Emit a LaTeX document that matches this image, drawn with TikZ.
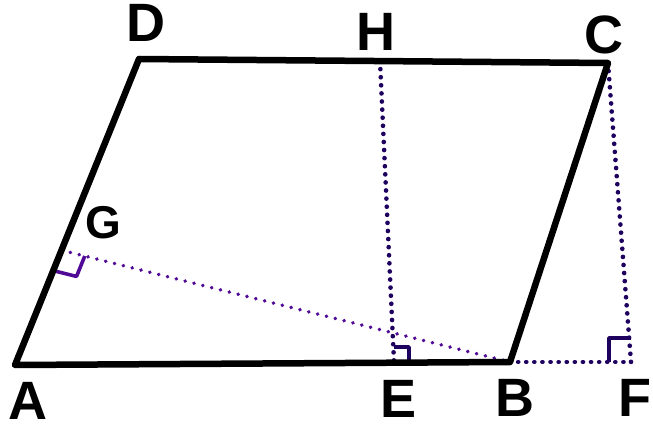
\documentclass[tikz,border=0pt]{standalone}
\usepackage{fontspec}
\setmainfont{Liberation Sans}
\usetikzlibrary{calc}
\definecolor{dotcol}{RGB}{30,0,95}
\definecolor{markcol}{RGB}{80,10,150}
\tikzset{
  x=1pt, y=-1pt,
  solidedge/.style={line width=6.5pt, line join=round, line cap=round, black},
  dottededge/.style={line width=4.6pt, line cap=round, dash pattern=on 0.1pt off 8pt, dotcol},
  thindotted/.style={line width=3.8pt, line cap=round, dash pattern=on 0.1pt off 9pt, markcol},
  rightmark/.style={line width=3.6pt, line join=round, dotcol},
  lbl/.style={font=\fontsize{54}{60}\selectfont\bfseries, inner sep=0pt, text=black},
  lblsmall/.style={font=\fontsize{46}{50}\selectfont\bfseries, inner sep=0pt, text=black}
}
\begin{document}
\begin{tikzpicture}
\useasboundingbox (0,0) rectangle (653,430);
\coordinate (A) at (15,365);
\coordinate (B) at (510,362);
\coordinate (C) at (608,63);
\coordinate (D) at (139,59);
\coordinate (H) at (380,61);
\coordinate (E) at (394,362);
\coordinate (F) at (631,362);
\coordinate (G) at ($(A)!0.375!(D)$);

% dotted lines
\draw[dottededge] (H) -- (E);
\draw[dottededge] (C) -- (F);
\draw[dottededge] (B) -- (F);
\draw[thindotted] (G) -- (B);

% right-angle marks
\coordinate (Ga) at ($(G)!22pt!(A)$);
\coordinate (Gb) at ($(G)!24pt!(B)$);
\draw[rightmark, markcol] (Ga) -- ($(Ga)+(Gb)-(G)$) -- (Gb);
\draw[rightmark] ([shift={(0,-15)}]E) -| ([shift={(15,0)}]E);
\draw[rightmark] ([shift={(0,-24)}]F) -| ([shift={(-22,0)}]F);

% parallelogram
\draw[solidedge] (A) -- (B) -- (C) -- (D) -- cycle;

% labels
\node[lbl] (lA) at (28,401) {A};
\node[lbl] (lE) at (399,399) {E};
\node[lbl] (lB) at (515,398) {B};
\node[lbl] (lF) at (635,398) {F};
\node[lbl] (lD) at (146,23) {D};
\node[lbl] (lH) at (376,32) {H};
\node[lbl] (lC) at (604,35) {C};
\node[lblsmall] (lG) at (103,223) {G};
\end{tikzpicture}
\end{document}
